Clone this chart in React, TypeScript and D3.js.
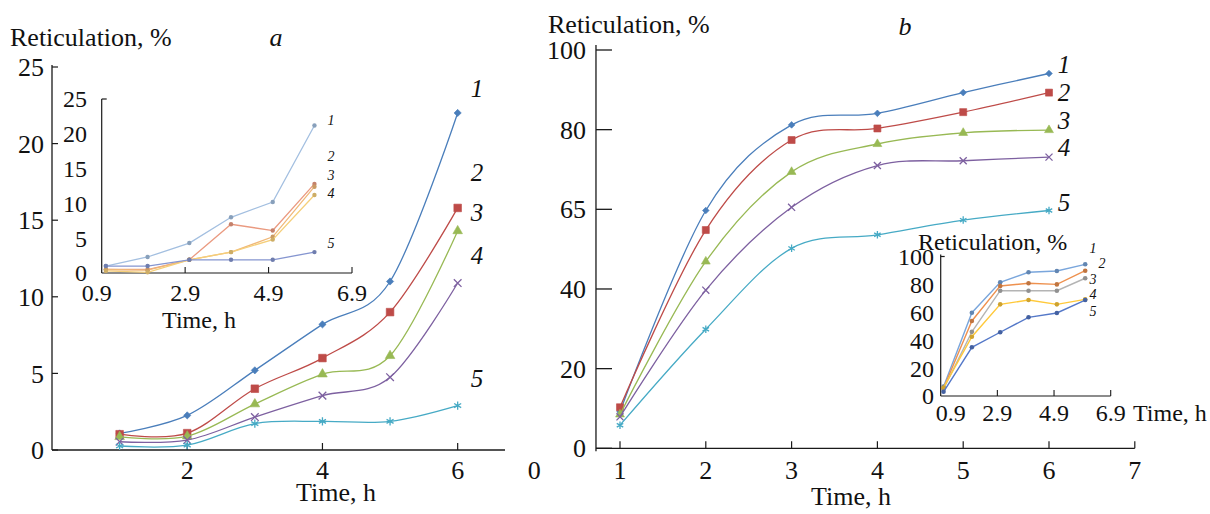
import React from "react";
import * as d3 from "d3";

// ---------- data ----------
const hours = [1, 2, 3, 4, 5, 6];
const curveNames = ["1", "2", "3", "4", "5"];

// panel a, main chart (Reticulation, %)
const aMain1 = [1.08, 2.26, 5.2, 8.2, 11.0, 22.0];
const aMain2 = [1.03, 1.1, 4.0, 6.0, 9.0, 15.8];
const aMain3 = [0.86, 0.9, 3.0, 4.95, 6.15, 14.3];
const aMain4 = [0.54, 0.65, 2.15, 3.55, 4.75, 10.9];
const aMain5 = [0.26, 0.32, 1.72, 1.87, 1.87, 2.9];

// panel a, inset
const aInset1 = [1.0, 2.3, 4.3, 8.0, 10.2, 21.2];
const aInset2 = [0.5, 0.5, 1.9, 7.0, 6.1, 12.8];
const aInset3 = [0.5, 0.4, 1.9, 3.0, 5.2, 12.4];
const aInset4 = [0.3, 0.1, 1.9, 3.0, 4.8, 11.2];
const aInset5 = [1.0, 1.0, 1.9, 1.9, 1.9, 3.0];

// panel b, main chart
const bMain1 = [9.2, 59.7, 81.2, 84.1, 89.3, 94.1];
const bMain2 = [10.3, 54.8, 77.4, 80.3, 84.4, 89.3];
const bMain3 = [8.5, 46.9, 69.4, 76.4, 79.2, 79.9];
const bMain4 = [7.9, 39.7, 60.5, 71.0, 72.2, 73.1];
const bMain5 = [5.8, 29.9, 50.2, 53.6, 57.3, 59.7];

// panel b, inset
const bInset1 = [6.7, 59.7, 81.5, 88.7, 89.6, 94.4];
const bInset2 = [5.5, 53.8, 78.9, 80.8, 80.0, 89.8];
const bInset3 = [5.0, 46.0, 75.5, 75.5, 75.5, 84.4];
const bInset4 = [6.0, 42.5, 65.7, 68.8, 65.7, 69.3];
const bInset5 = [3.0, 34.9, 45.7, 56.4, 59.5, 68.8];

// tick labels
const aYTicks = [0, 5, 10, 15, 20, 25];
const aXTicks = [2, 4, 6];
const insetXTicks = [0.9, 2.9, 4.9, 6.9];
const aInsetYTicks = [0, 5, 10, 15, 20, 25];
const bYTicks = [0, 20, 40, 60, 80, 100];
const bYTickLabels = ["0", "20", "40", "65", "80", "100"];
const bXTicks = [0, 1, 2, 3, 4, 5, 6, 7];
const bInsetYTicks = [0, 20, 40, 60, 80, 100];

const yTitle = "Reticulation, %";
const xTitle = "Time, h";

// ---------- styles ----------
const FONT = "'Liberation Serif', 'DejaVu Serif', serif";
const mainColors = ["#4a7ebb", "#be4b48", "#98b954", "#7d60a0", "#46aac5"];
const aInsetColors = ["#a3bfe0", "#ea9a80", "#f0b878", "#f5cf7a", "#8595d0"];
const bInsetColors = ["#7aa6dc", "#ee914f", "#b4b4b4", "#ffc93a", "#5478c8"];
const symbolTypes = [d3.symbolSquare, d3.symbolSquare, d3.symbolTriangle, d3.symbolX, d3.symbolAsterisk];

function T(props: any) {
  const { children, style, ...rest } = props;
  return (
    <text {...rest} fill="#111" style={{ fontFamily: FONT, ...(style || {}) }}>
      {children}
    </text>
  );
}

function Marker({ cx, cy, idx, color, scale }: any) {
  const sizes = [26, 58, 40, 40, 46].map((s) => s * scale);
  const path = d3.symbol().type(symbolTypes[idx]).size(sizes[idx])() as string;
  const stroked = idx >= 3;
  const rot = idx === 0 ? 45 : 0;
  return (
    <path
      d={path}
      transform={`translate(${cx},${cy}) rotate(${rot})`}
      fill={stroked ? "none" : color}
      stroke={color}
      strokeWidth={stroked ? 1.3 : 0.6}
    />
  );
}

export default function App() {
  // ---- panel a scales ----
  const ax = d3.scaleLinear().domain([0, 6.7]).range([52, 505]);
  const ay = d3.scaleLinear().domain([0, 25]).range([450, 67]);
  const aix = d3.scaleLinear().domain([0.9, 6.9]).range([101.7, 352]);
  const aiy = d3.scaleLinear().domain([0, 25]).range([273, 99]);

  // ---- panel b scales ----
  const bx = d3.scaleLinear().domain([0, 7]).range([534.2, 1134.8]);
  const by = d3.scaleLinear().domain([0, 100]).range([448.3, 50]);
  const bix = d3.scaleLinear().domain([0.9, 6.9]).range([940.7, 1110.7]);
  const biy = d3.scaleLinear().domain([0, 100]).range([396, 256.5]);

  const aMain = [aMain1, aMain2, aMain3, aMain4, aMain5];
  const aInset = [aInset1, aInset2, aInset3, aInset4, aInset5];
  const bMain = [bMain1, bMain2, bMain3, bMain4, bMain5];
  const bInset = [bInset1, bInset2, bInset3, bInset4, bInset5];

  const smooth = (xs: any, ys: any) =>
    d3
      .line<number>()
      .x((_, i) => xs(hours[i]))
      .y((d) => ys(d))
      .curve(d3.curveCardinal.tension(0));
  const straight = (xs: any, ys: any) =>
    d3
      .line<number>()
      .x((_, i) => xs(hours[i]))
      .y((d) => ys(d));

  const aLine = smooth(ax, ay);
  const bLine = smooth(bx, by);
  const aiLine = straight(aix, aiy);
  const biLine = straight(bix, biy);

  const axisColor = "#1a1a1a";

  const aLabelY = [88, 172.5, 212.5, 255, 378];
  const bLabelY = [64, 92, 120, 147, 202];
  const aInsetLabelY = [120, 156, 175, 193, 243];
  const bInsetLabel = [
    [1093, 248],
    [1102, 263],
    [1093, 279],
    [1093, 294],
    [1093, 311],
  ];

  return (
    <svg
      width={1210}
      height={514}
      style={{ position: "absolute", left: 0, top: 0, background: "#fff", fontFamily: FONT }}
    >
      <rect x={0} y={0} width={1210} height={514} fill="#fff" />

      {/* ================= PANEL A ================= */}
      <T x={10} y={46} fontSize={26}>{yTitle}</T>
      <T x={276} y={46} fontSize={26} fontStyle="italic" textAnchor="middle">a</T>

      <line x1={ax(0)} x2={ax(0)} y1={ay(0)} y2={ay(25) - 2} stroke={axisColor} strokeWidth={1.3} />
      <line x1={ax(0)} x2={ax(6.7)} y1={ay(0)} y2={ay(0)} stroke={axisColor} strokeWidth={1.3} />
      {aYTicks.map((t) => (
        <g key={"ay" + t}>
          <line x1={ax(0)} x2={ax(0) + 6} y1={ay(t)} y2={ay(t)} stroke={axisColor} strokeWidth={1.2} />
          <T x={44} y={ay(t)} dy="0.35em" fontSize={26} textAnchor="end">{t}</T>
        </g>
      ))}
      {aXTicks.map((t) => (
        <g key={"ax" + t}>
          <line x1={ax(t)} x2={ax(t)} y1={ay(0)} y2={ay(0) - 7} stroke={axisColor} strokeWidth={1.2} />
          <T x={ax(t)} y={479} fontSize={26} textAnchor="middle">{t}</T>
        </g>
      ))}
      <T x={336} y={501} fontSize={26} textAnchor="middle">{xTitle}</T>

      {/* inset a */}
      <line x1={aix(0.9)} x2={aix(0.9)} y1={aiy(0)} y2={aiy(25)} stroke={axisColor} strokeWidth={1.2} />
      <line x1={aix(0.9)} x2={aix(0.9) + 5} y1={aiy(25)} y2={aiy(25)} stroke={axisColor} strokeWidth={1.2} />
      <line x1={aix(0.9)} x2={aix(6.9)} y1={aiy(0)} y2={aiy(0)} stroke={axisColor} strokeWidth={1.2} />
      {aInsetYTicks.map((t) => (
        <T key={"aiy" + t} x={87} y={aiy(t)} dy="0.35em" fontSize={24} textAnchor="end">{t}</T>
      ))}
      {insetXTicks.map((t) => (
        <g key={"aix" + t}>
          {t > 0.9 && <line x1={aix(t)} x2={aix(t)} y1={aiy(0)} y2={aiy(0) - 6} stroke={axisColor} strokeWidth={1.1} />}
          <T x={aix(t) - (t === 0.9 ? 5 : 0)} y={301} fontSize={24} textAnchor="middle">{t.toFixed(1)}</T>
        </g>
      ))}
      <T x={199} y={328} fontSize={24} textAnchor="middle">{xTitle}</T>
      {aInset.map((s, i) => (
        <g key={"ai" + i}>
          <path d={aiLine(s) as string} fill="none" stroke={aInsetColors[i]} strokeWidth={1.3} />
          {s.map((v, j) => (
            <circle key={j} cx={aix(hours[j])} cy={aiy(v)} r={2.2} fill={d3.color(aInsetColors[i])!.darker(0.5).toString()} />
          ))}
          <T x={331} y={aInsetLabelY[i]} dy="0.35em" fontSize={14} fontStyle="italic" textAnchor="middle">
            {curveNames[i]}
          </T>
        </g>
      ))}

      {aMain.map((s, i) => (
        <g key={"am" + i}>
          <path d={aLine(s) as string} fill="none" stroke={mainColors[i]} strokeWidth={1.3} />
          {s.map((v, j) => (
            <Marker key={j} cx={ax(hours[j])} cy={ay(v)} idx={i} color={mainColors[i]} scale={1} />
          ))}
          <T x={477} y={aLabelY[i]} dy="0.35em" fontSize={25} fontStyle="italic" textAnchor="middle">
            {curveNames[i]}
          </T>
        </g>
      ))}

      {/* ================= PANEL B ================= */}
      <T x={548} y={33} fontSize={26}>{yTitle}</T>
      <T x={905} y={35} fontSize={26} fontStyle="italic" textAnchor="middle">b</T>

      <line x1={bx(0.72)} x2={bx(0.72)} y1={by(0) + 3} y2={45} stroke={axisColor} strokeWidth={1.3} />
      <line x1={bx(0.72)} x2={bx(7)} y1={by(0)} y2={by(0)} stroke={axisColor} strokeWidth={1.3} />
      {bYTicks.map((t, i) => (
        <g key={"by" + t}>
          <line x1={bx(0.72)} x2={bx(0.72) + 16} y1={by(t)} y2={by(t)} stroke={axisColor} strokeWidth={1.3} />
          <T x={586} y={by(t)} dy="0.35em" fontSize={26} textAnchor="end">{bYTickLabels[i]}</T>
        </g>
      ))}
      {bXTicks.map((t) => (
        <g key={"bx" + t}>
          {t > 0 && <line x1={bx(t)} x2={bx(t)} y1={by(0)} y2={by(0) - 7} stroke={axisColor} strokeWidth={1.2} />}
          <T x={bx(t)} y={479} fontSize={26} textAnchor="middle">{t}</T>
        </g>
      ))}
      <T x={851} y={505} fontSize={26} textAnchor="middle">{xTitle}</T>

      {bMain.map((s, i) => (
        <g key={"bm" + i}>
          <path d={bLine(s) as string} fill="none" stroke={mainColors[i]} strokeWidth={1.3} />
          {s.map((v, j) => (
            <Marker key={j} cx={bx(hours[j])} cy={by(v)} idx={i} color={mainColors[i]} scale={0.85} />
          ))}
          <T x={1064} y={bLabelY[i]} dy="0.35em" fontSize={25} fontStyle="italic" textAnchor="middle">
            {curveNames[i]}
          </T>
        </g>
      ))}

      {/* inset b */}
      <T x={918} y={250} fontSize={24}>{yTitle}</T>
      <line x1={bix(0.9)} x2={bix(0.9)} y1={biy(0)} y2={biy(100) - 2} stroke={axisColor} strokeWidth={1.2} />
      <line x1={bix(0.9)} x2={bix(0.9) + 4} y1={biy(100)} y2={biy(100)} stroke={axisColor} strokeWidth={1.2} />
      <line x1={bix(0.9)} x2={bix(6.9)} y1={biy(0)} y2={biy(0)} stroke={axisColor} strokeWidth={1.2} />
      {bInsetYTicks.map((t) => (
        <T key={"biy" + t} x={934} y={biy(t)} dy="0.35em" fontSize={24} textAnchor="end">{t}</T>
      ))}
      {insetXTicks.map((t) => (
        <g key={"bix" + t}>
          {t > 0.9 && <line x1={bix(t)} x2={bix(t)} y1={biy(0)} y2={biy(0) - 6} stroke={axisColor} strokeWidth={1.1} />}
          <T x={bix(t) + (t === 0.9 ? 10 : 0)} y={421} fontSize={24} textAnchor="middle">{t.toFixed(1)}</T>
        </g>
      ))}
      <T x={1133} y={421} fontSize={24}>{xTitle}</T>
      {bInset.map((s, i) => (
        <g key={"bi" + i}>
          <path d={biLine(s) as string} fill="none" stroke={bInsetColors[i]} strokeWidth={1.4} />
          {s.map((v, j) => (
            <circle key={j} cx={bix(hours[j])} cy={biy(v)} r={2.3} fill={d3.color(bInsetColors[i])!.darker(0.6).toString()} />
          ))}
          <T x={bInsetLabel[i][0]} y={bInsetLabel[i][1]} dy="0.35em" fontSize={14} fontStyle="italic" textAnchor="middle">
            {curveNames[i]}
          </T>
        </g>
      ))}
    </svg>
  );
}
